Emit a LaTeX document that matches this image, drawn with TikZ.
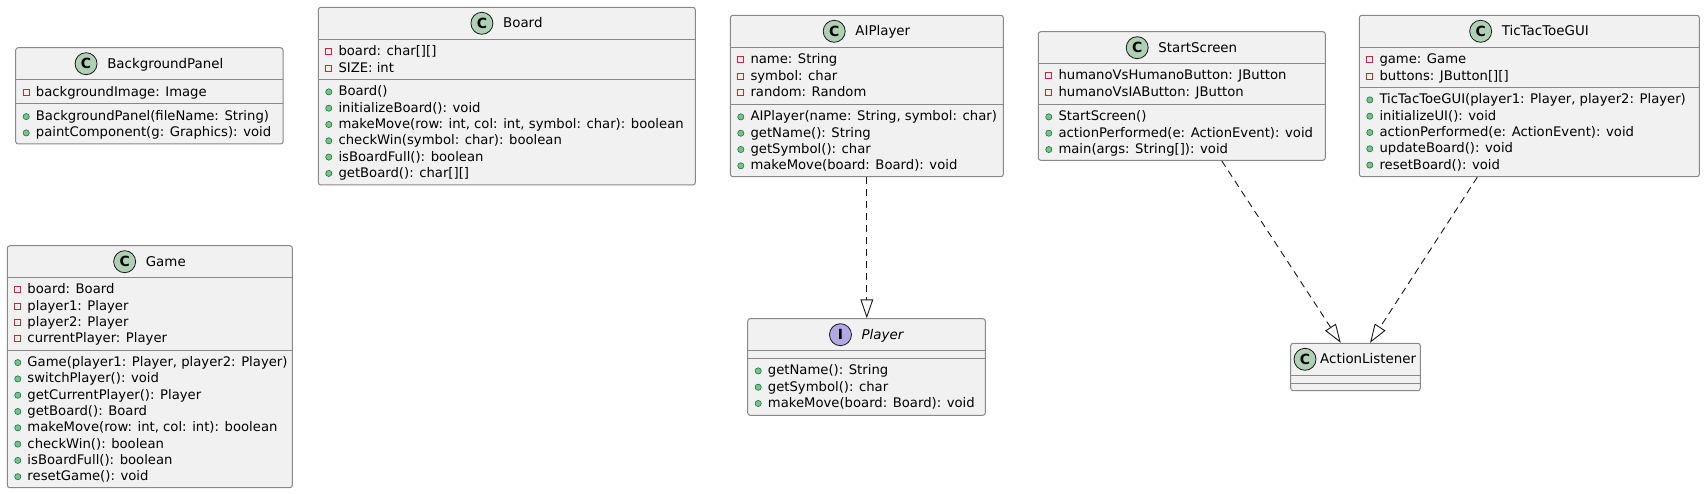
\documentclass[tikz,border=0pt]{standalone}
\usepackage{fontspec}
\setmainfont{DejaVu Sans}
\usetikzlibrary{arrows.meta,calc,fit}
\definecolor{boxfill}{HTML}{F1F1F1}
\definecolor{boxline}{HTML}{888888}
\definecolor{cfill}{HTML}{ADD1B2}
\definecolor{ifill}{HTML}{B4A7E5}
\definecolor{privred}{HTML}{C82930}
\definecolor{pubfill}{HTML}{84BE84}
\definecolor{publine}{HTML}{038048}
\definecolor{darkline}{HTML}{181818}
\newcount\membcount
\tikzset{
  classbox/.style={draw=boxline, fill=boxfill, line width=1bp, rounded corners=2.5bp, inner sep=0pt},
  sepline/.style={draw=boxline, line width=1bp},
  txt/.style={inner sep=0pt, anchor=base west, font=\fontsize{13.2bp}{16bp}\selectfont},
  ttl/.style={inner sep=0pt, anchor=base, font=\fontsize{13.4bp}{16bp}\selectfont},
  kindc/.style={circle, draw=darkline, fill=cfill, line width=0.8bp, minimum size=22bp, inner sep=0pt, font=\fontsize{14bp}{14bp}\selectfont\bfseries},
  kindi/.style={kindc, fill=ifill},
  privicon/.style={draw=privred, line width=1bp},
  pubicon/.style={draw=publine, fill=pubfill, line width=0.6bp},
  realize/.style={draw=darkline, line width=0.9bp, dash pattern=on 7bp off 5bp,
    -{Triangle[length=18.7bp, width=12.7bp, fill=white]}},
}
% #1 left x, #2 baseline y, #3 text
\newcommand\privm[3]{%
  \global\advance\membcount by 1
  \draw[privicon] ({#1+7.5},{#2-7}) rectangle ({#1+13.5},{#2-1});
  \node[txt] (m\the\membcount) at ({#1+20},#2) {#3};
}
\newcommand\pubm[3]{%
  \global\advance\membcount by 1
  \path[pubicon] ({#1+10.5},{#2-4}) circle (3.1bp);
  \node[txt] (m\the\membcount) at ({#1+20},#2) {#3};
}
% #1 name, #2 left, #3 top, #4 right, #5 bottom, #6 sep1, #7 sep2
\newcommand\classbox[7]{%
  \node[classbox, fit={(#2,#3) (#4,#5)}] (#1) {};
  \draw[sepline] (#2,#6) -- (#4,#6);
  \draw[sepline] (#2,#7) -- (#4,#7);
}
% #1 name, #2 kind style, #3 letter, #4 text centre x, #5 baseline, #6 title
\newcommand\classtitle[6]{%
  \node[ttl] (#1-t) at (#4,#5) {#6};
  \node[#2] (#1-k) at ($(#1-t.base west)+(-21,-4.5)$) {#3};
}
\begin{document}
\begin{tikzpicture}[x=1bp, y=-1bp]
\path[fill=white] (0,0) rectangle (1705,494);
\useasboundingbox (0,0) rectangle (1705,494);

% BackgroundPanel
\classbox{bp}{15.7}{47.7}{283}{144}{80}{104}
\classtitle{bp}{kindc}{C}{165.3}{68.2}{BackgroundPanel}
\privm{15.7}{96.6}{backgroundImage: Image}
\pubm{15.7}{120.6}{BackgroundPanel(fileName: String)}
\pubm{15.7}{136.9}{paintComponent(g: Graphics): void}

% Board
\classbox{bd}{318.3}{7.3}{695.3}{185}{39.3}{79.3}
\classtitle{bd}{kindc}{C}{522.8}{27.8}{Board}
\privm{318.3}{55.9}{board: char[][]}
\privm{318.3}{72.2}{SIZE: int}
\pubm{318.3}{95.9}{Board()}
\pubm{318.3}{112.2}{initializeBoard(): void}
\pubm{318.3}{128.5}{makeMove(row: int, col: int, symbol: char): boolean}
\pubm{318.3}{144.8}{checkWin(symbol: char): boolean}
\pubm{318.3}{161.1}{isBoardFull(): boolean}
\pubm{318.3}{177.4}{getBoard(): char[][]}

% Game
\classbox{gm}{7.3}{245.7}{292.3}{487.7}{277.3}{350}
\classtitle{gm}{kindc}{C}{165.8}{266.2}{Game}
\privm{7.3}{293.9}{board: Board}
\privm{7.3}{310.2}{player1: Player}
\privm{7.3}{326.5}{player2: Player}
\privm{7.3}{342.8}{currentPlayer: Player}
\pubm{7.3}{366.6}{Game(player1: Player, player2: Player)}
\pubm{7.3}{382.9}{switchPlayer(): void}
\pubm{7.3}{399.2}{getCurrentPlayer(): Player}
\pubm{7.3}{415.5}{getBoard(): Board}
\pubm{7.3}{431.8}{makeMove(row: int, col: int): boolean}
\pubm{7.3}{448.1}{checkWin(): boolean}
\pubm{7.3}{464.4}{isBoardFull(): boolean}
\pubm{7.3}{480.7}{resetGame(): void}

% AIPlayer
\classbox{ai}{730.3}{15.3}{1003.3}{176.7}{47.3}{104.3}
\classtitle{ai}{kindc}{C}{882.8}{35.8}{AIPlayer}
\privm{730.3}{63.9}{name: String}
\privm{730.3}{80.2}{symbol: char}
\privm{730.3}{96.5}{random: Random}
\pubm{730.3}{120.9}{AIPlayer(name: String, symbol: char)}
\pubm{730.3}{137.2}{getName(): String}
\pubm{730.3}{153.5}{getSymbol(): char}
\pubm{730.3}{169.8}{makeMove(board: Board): void}

% Player (interface)
\classbox{pl}{747.7}{318.7}{985.3}{415.3}{350.7}{358.3}
\classtitle{pl}{kindi}{I}{882.5}{339.2}{\itshape Player}
\pubm{747.7}{374.9}{getName(): String}
\pubm{747.7}{391.2}{getSymbol(): char}
\pubm{747.7}{407.5}{makeMove(board: Board): void}

% StartScreen
\classbox{ss}{1038.3}{31.7}{1325.3}{160.3}{63.3}{104.3}
\classtitle{ss}{kindc}{C}{1197.8}{52.2}{StartScreen}
\privm{1038.3}{79.9}{humanoVsHumanoButton: JButton}
\privm{1038.3}{96.2}{humanoVsIAButton: JButton}
\pubm{1038.3}{120.9}{StartScreen()}
\pubm{1038.3}{137.2}{actionPerformed(e: ActionEvent): void}
\pubm{1038.3}{153.5}{main(args: String[]): void}

% TicTacToeGUI
\classbox{tt}{1359.3}{15.3}{1699.3}{176.7}{47.3}{87.3}
\classtitle{tt}{kindc}{C}{1545.3}{35.8}{TicTacToeGUI}
\privm{1359.3}{63.9}{game: Game}
\privm{1359.3}{80.2}{buttons: JButton[][]}
\pubm{1359.3}{103.9}{TicTacToeGUI(player1: Player, player2: Player)}
\pubm{1359.3}{120.2}{initializeUI(): void}
\pubm{1359.3}{136.5}{actionPerformed(e: ActionEvent): void}
\pubm{1359.3}{152.8}{updateBoard(): void}
\pubm{1359.3}{169.1}{resetBoard(): void}

% ActionListener
\classbox{al}{1290.7}{343.3}{1420.3}{390.7}{375.3}{383.3}
\node[ttl, anchor=base west] (al-t) at (1320,363.8) {ActionListener};
\node[kindc] (al-k) at (1305,359.3) {C};

% realizations
\draw[realize] (ai.south) -- (ai.south |- pl.north);
\draw[realize] ($(ss.south)+(39.9,0)$) -- ($(al.north)+(-14.8,0)$);
\draw[realize] ($(tt.south)+(-52,0)$) -- ($(al.north)+(14.5,0)$);
\end{tikzpicture}
\end{document}
